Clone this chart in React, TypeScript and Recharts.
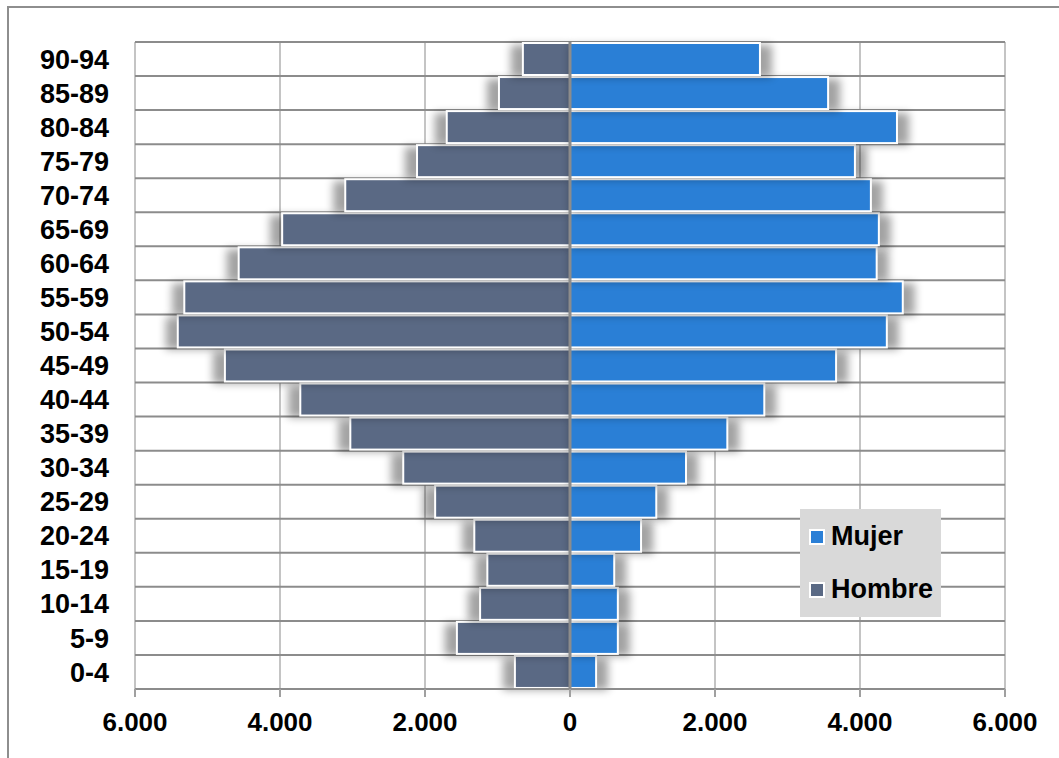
import React from "react";
import {
  BarChart,
  Bar,
  XAxis,
  YAxis,
  CartesianGrid,
  ReferenceLine,
} from "recharts";

const ageGroups = [
  "0-4", "5-9", "10-14", "15-19", "20-24", "25-29", "30-34", "35-39", "40-44",
  "45-49", "50-54", "55-59", "60-64", "65-69", "70-74", "75-79", "80-84", "85-89", "90-94",
];
const hombre = [
  760, 1560, 1240, 1140, 1320, 1860, 2300, 3030, 3720,
  4760, 5410, 5320, 4570, 3970, 3100, 2110, 1700, 980, 650,
];
const mujer = [
  360, 660, 660, 610, 980, 1190, 1600, 2170, 2680,
  3670, 4370, 4590, 4230, 4260, 4150, 3930, 4510, 3560, 2620,
];
const xTicks = [-6000, -4000, -2000, 0, 2000, 4000, 6000];
const seriesNames = ["Mujer", "Hombre"];
const seriesColors = ["#2a7fd6", "#5a6984"];

const data = ageGroups.map((age, i) => ({
  age,
  hombre: -hombre[i],
  mujer: mujer[i],
}));

const FONT = "'Liberation Sans', Arial, sans-serif";

const fmt = (v: number) =>
  String(Math.abs(v)).replace(/\B(?=(\d{3})+(?!\d))/g, ".");

const makeShape = (color: string, leftward: boolean) => (props: any) => {
  const { x, y, width, height } = props;
  if (width == null || height == null) return null;
  const x0 = width < 0 ? x + width : x;
  const w = Math.abs(width);
  const ext = 12;
  return (
    <g>
      <rect
        x={leftward ? x0 - ext : x0}
        y={y + 2}
        width={w + ext}
        height={height}
        fill="#000"
        opacity={0.36}
        filter="url(#barShadow)"
      />
      <rect x={x0} y={y} width={w} height={height} fill={color} stroke="#ffffff" strokeWidth={2} />
    </g>
  );
};

export default function App() {
  const W = 1059;
  const H = 758;
  return (
    <div
      style={{
        position: "absolute",
        left: 0,
        top: 0,
        width: W,
        height: H,
        overflow: "hidden",
        background: "#ffffff",
        fontFamily: FONT,
      }}
    >
      <svg width={0} height={0} style={{ position: "absolute" }}>
        <defs>
          <filter id="barShadow" x="-50%" y="-50%" width="200%" height="200%">
            <feGaussianBlur stdDeviation={4} />
          </filter>
        </defs>
      </svg>
      <div
        style={{
          position: "absolute",
          left: 7,
          top: 6,
          width: 1100,
          height: 800,
          border: "2px solid #8e8e8e",
        }}
      />
      <div style={{ position: "absolute", left: 0, top: 0 }}>
        <BarChart
          width={W}
          height={H}
          data={data}
          layout="vertical"
          stackOffset="sign"
          margin={{ top: 42, right: 54, bottom: 0, left: 0 }}
          barCategoryGap={1}
        >
          <CartesianGrid
            stroke="#c4c4c4"
            strokeWidth={2}
            horizontal={false}
            vertical={true}
          />
          <CartesianGrid
            stroke="#8c8c8c"
            strokeWidth={2}
            vertical={false}
            horizontalCoordinatesGenerator={(p: any) => {
              const off = p.offset;
              const n = ageGroups.length;
              const arr: number[] = [];
              for (let i = 0; i <= n; i++) arr.push(off.top + (i * off.height) / n);
              return arr;
            }}
          />
          <XAxis
            type="number"
            domain={[-6000, 6000]}
            ticks={xTicks}
            tickFormatter={fmt}
            height={69}
            axisLine={{ stroke: "#8c8c8c", strokeWidth: 2 }}
            tickLine={{ stroke: "#a0a0a0", strokeWidth: 2 }}
            tickSize={8}
            tickMargin={16}
            tick={{ fill: "#000", fontSize: 26, fontWeight: 700, fontFamily: FONT }}
            interval={0}
          />
          <YAxis
            type="category"
            dataKey="age"
            reversed
            width={135}
            axisLine={false}
            tickLine={false}
            tickSize={0}
            tickMargin={26}
            interval={0}
            tick={{ fill: "#000", fontSize: 27, fontWeight: 700, fontFamily: FONT }}
          />
          <Bar
            dataKey="hombre"
            stackId="a"
            fill={seriesColors[1]}
            isAnimationActive={false}
            shape={makeShape(seriesColors[1], true)}
          />
          <Bar
            dataKey="mujer"
            stackId="a"
            fill={seriesColors[0]}
            isAnimationActive={false}
            shape={makeShape(seriesColors[0], false)}
          />
          <ReferenceLine x={0} stroke="#8c8c8c" strokeWidth={3} />
        </BarChart>
      </div>
      <div
        style={{
          position: "absolute",
          left: 800,
          top: 509,
          width: 141,
          height: 108,
          background: "#d9d9d9",
          boxSizing: "border-box",
          paddingLeft: 9,
          paddingTop: 14,
        }}
      >
        {seriesNames.map((name, i) => (
          <div
            key={name}
            style={{
              display: "flex",
              alignItems: "center",
              height: 27,
              marginBottom: i === 0 ? 26 : 0,
            }}
          >
            <div
              style={{
                width: 12,
                height: 12,
                background: seriesColors[i],
                border: "2px solid #ffffff",
                marginRight: 6,
              }}
            />
            <span style={{ fontSize: 27, fontWeight: 700, color: "#000", lineHeight: "27px" }}>
              {name}
            </span>
          </div>
        ))}
      </div>
    </div>
  );
}
